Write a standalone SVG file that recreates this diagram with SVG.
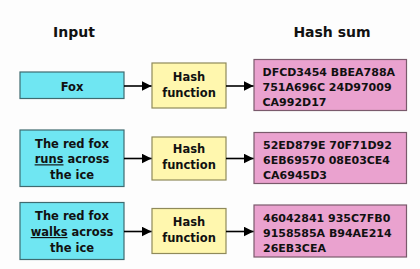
<svg xmlns="http://www.w3.org/2000/svg" width="420" height="269" viewBox="0 0 420 269">
<defs>
<marker id="ah" markerWidth="10" markerHeight="10" refX="10" refY="5" orient="auto" markerUnits="userSpaceOnUse">
<path d="M0,0 L10,5 L0,10 Z" fill="#000"/>
</marker>
<style>
text{font-family:"DejaVu Sans","Liberation Sans",sans-serif;font-weight:bold;fill:#111}
.hd{font-size:14px;text-anchor:middle}
.in{fill:#6fe6f2;stroke:#3f6b70;stroke-width:1.2}
.hf{fill:#fff7ae;stroke:#8f8a5a;stroke-width:1.2}
.hs{fill:#eaa2cf;stroke:#7a5a6c;stroke-width:1.2}
.t{font-size:11.5px;text-anchor:middle}
.s{font-size:11px}
.u{text-decoration:underline}
.c{stroke:#000;stroke-width:1.6;fill:none;marker-end:url(#ah)}
</style>
</defs>
<rect width="420" height="269" fill="#fdfdfd"/>
<text class="hd" x="74" y="37">Input</text>
<text class="hd" x="332" y="37">Hash sum</text>

<g id="in1"><rect class="in" x="20" y="72" width="104" height="26.5"/><text class="t" x="72" y="90.5">Fox</text></g>
<g id="hf1"><rect class="hf" x="152" y="63" width="74" height="45"/><text class="t" x="189" y="81">Hash</text><text class="t" x="189" y="96.5">function</text></g>
<g id="hs1"><rect class="hs" x="254" y="59.5" width="152.5" height="51"/>
<text class="s" x="262.5" y="75.7">DFCD3454 BBEA788A</text><text class="s" x="262.5" y="90.7">751A696C 24D97009</text><text class="s" x="262.5" y="105.5">CA992D17</text></g>

<g id="in2"><rect class="in" x="20" y="130" width="104" height="56.5"/>
<text class="t" x="72" y="147.5">The red fox</text><text class="t" x="72" y="163.3"><tspan class="u">runs</tspan> across</text><text class="t" x="72" y="178.5">the ice</text></g>
<g id="hf2"><rect class="hf" x="152" y="137" width="74" height="43"/><text class="t" x="189" y="153.3">Hash</text><text class="t" x="189" y="169">function</text></g>
<g id="hs2"><rect class="hs" x="254" y="132.5" width="152.5" height="51"/>
<text class="s" x="263" y="149.3">52ED879E 70F71D92</text><text class="s" x="263" y="164">6EB69570 08E03CE4</text><text class="s" x="263" y="178.5">CA6945D3</text></g>

<g id="in3"><rect class="in" x="20" y="202.5" width="104" height="57"/>
<text class="t" x="72" y="220">The red fox</text><text class="t" x="72" y="236"><tspan class="u">walks</tspan> across</text><text class="t" x="72" y="251.5">the ice</text></g>
<g id="hf3"><rect class="hf" x="152" y="208.5" width="74" height="45"/><text class="t" x="189" y="225.7">Hash</text><text class="t" x="189" y="241.5">function</text></g>
<g id="hs3"><rect class="hs" x="254" y="205" width="152.5" height="52"/>
<text class="s" x="263" y="221.7">46042841 935C7FB0</text><text class="s" x="263" y="236.5">9158585A B94AE214</text><text class="s" x="263" y="251.5">26EB3CEA</text></g>

<g id="connectors">
<line class="c" x1="124" y1="86" x2="151.5" y2="86"/>
<line class="c" x1="226" y1="86" x2="253.5" y2="86"/>
<line class="c" x1="124" y1="158.5" x2="151.5" y2="158.5"/>
<line class="c" x1="226" y1="158.5" x2="253.5" y2="158.5"/>
<line class="c" x1="124" y1="231.5" x2="151.5" y2="231.5"/>
<line class="c" x1="226" y1="231.5" x2="253.5" y2="231.5"/>
</g>
</svg>
